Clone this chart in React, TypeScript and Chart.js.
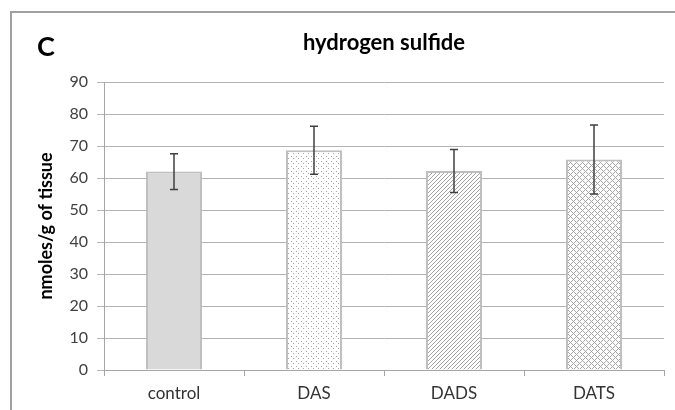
import React, { useEffect, useRef } from "react";
import { Chart, registerables } from "chart.js";

Chart.register(...registerables);

const categories = ["control", "DAS", "DADS", "DATS"];
const values = [62.0, 68.7, 62.2, 65.8];
const errors = [5.6, 7.5, 6.7, 10.8];
const patterns = ["solid", "dots", "diag", "cross"];
const chartTitle = "hydrogen sulfide";
const panelLabel = "C";
const yAxisTitle = "nmoles/g of tissue";
const yMin = 0;
const yMax = 90;
const yStep = 10;

const FONT = "Lato, 'Open Sans', sans-serif";

function makeFill(kind: string): CanvasPattern | string {
  if (kind === "solid") return "#d9d9d9";
  const n = kind === "dots" ? 5 : kind === "diag" ? 4 : 6;
  const c = document.createElement("canvas");
  c.width = n;
  c.height = n;
  const ctx = c.getContext("2d")!;
  ctx.fillStyle = "#ffffff";
  ctx.fillRect(0, 0, n, n);
  ctx.fillStyle = "#a6a6a6";
  for (let x = 0; x < n; x++) {
    for (let y = 0; y < n; y++) {
      let on = false;
      if (kind === "dots") on = (x === 1 && y === 1) || (x === 3 && y === 3);
      if (kind === "diag") on = (x + y) % n === 0;
      if (kind === "cross") on = (x + y) % n === 0 || (x - y + n) % n === 0;
      if (on) ctx.fillRect(x, y, 1, 1);
    }
  }
  const p = ctx.createPattern(c, "repeat");
  return p || "#d9d9d9";
}

const errorBarPlugin = {
  id: "errorBars",
  afterDatasetsDraw(chart: any) {
    const meta = chart.getDatasetMeta(0);
    const yScale = chart.scales.y;
    const ctx = chart.ctx;
    ctx.save();
    ctx.strokeStyle = "#404040";
    ctx.lineWidth = 1.5;
    meta.data.forEach((bar: any, i: number) => {
      const x = bar.x;
      const top = yScale.getPixelForValue(values[i] + errors[i]);
      const bot = yScale.getPixelForValue(values[i] - errors[i]);
      ctx.beginPath();
      ctx.moveTo(x, top);
      ctx.lineTo(x, bot);
      ctx.moveTo(x - 4, top);
      ctx.lineTo(x + 4, top);
      ctx.moveTo(x - 4, bot);
      ctx.lineTo(x + 4, bot);
      ctx.stroke();
    });
    ctx.restore();
  },
};

const decorPlugin = {
  id: "decor",
  beforeDraw(chart: any) {
    const ctx = chart.ctx;
    ctx.save();
    ctx.fillStyle = "#ffffff";
    ctx.fillRect(0, 0, chart.width, chart.height);
    ctx.strokeStyle = "#a0a0a0";
    ctx.lineWidth = 2;
    ctx.beginPath();
    ctx.moveTo(11, chart.height);
    ctx.lineTo(11, 12);
    ctx.lineTo(chart.width, 12);
    ctx.stroke();
    ctx.fillStyle = "#000000";
    ctx.font = `bold 27px ${FONT}`;
    ctx.textBaseline = "middle";
    ctx.textAlign = "left";
    ctx.fillText(panelLabel, 37, 47);
    ctx.restore();
  },
};

export default function App() {
  const ref = useRef<HTMLCanvasElement>(null);
  useEffect(() => {
    document.body.style.margin = "0";
    const canvas = ref.current!;
    const chart = new Chart(canvas, {
      type: "bar",
      data: {
        labels: categories,
        datasets: [
          {
            data: values,
            backgroundColor: patterns.map(makeFill) as any,
            borderColor: "#bfbfbf",
            borderWidth: 2,
            barPercentage: 0.4,
            categoryPercentage: 1,
          },
        ],
      },
      options: {
        animation: false,
        responsive: false,
        devicePixelRatio: 1,
        layout: { padding: { left: 0, right: 11, top: 0, bottom: 0 } },
        plugins: {
          legend: { display: false },
          tooltip: { enabled: false },
          title: {
            display: true,
            text: chartTitle,
            fullSize: false,
            color: "#000000",
            font: { family: FONT, size: 22, weight: "bold", lineHeight: 1.2 },
            padding: { top: 30, bottom: 25.6 },
          },
        },
        scales: {
          x: {
            afterFit(scale: any) {
              scale.height = 40;
            },
            grid: {
              drawOnChartArea: false,
              drawTicks: true,
              tickLength: 6,
              color: "#a6a6a6",
              offset: true,
            },
            border: { color: "#a6a6a6", width: 1 },
            ticks: {
              color: "#333333",
              padding: 7,
              font: { family: FONT, size: 17 },
            },
          },
          y: {
            min: yMin,
            max: yMax,
            afterFit(scale: any) {
              scale.width = 104;
            },
            grid: {
              color: "#b3b3b3",
              drawTicks: true,
              tickLength: 7,
            },
            border: { color: "#a6a6a6", width: 1 },
            ticks: {
              stepSize: yStep,
              color: "#404040",
              padding: 9,
              font: { family: FONT, size: 16 },
            },
            title: {
              display: true,
              text: yAxisTitle,
              color: "#000000",
              font: { family: FONT, size: 18, weight: "bold", lineHeight: 1.2 },
              padding: { top: 35, bottom: 0 },
            },
          },
        },
      },
      plugins: [decorPlugin, errorBarPlugin],
    });
    return () => chart.destroy();
  }, []);
  return (
    <div style={{ width: 675, height: 410 }}>
      <canvas ref={ref} width={675} height={410} />
    </div>
  );
}
